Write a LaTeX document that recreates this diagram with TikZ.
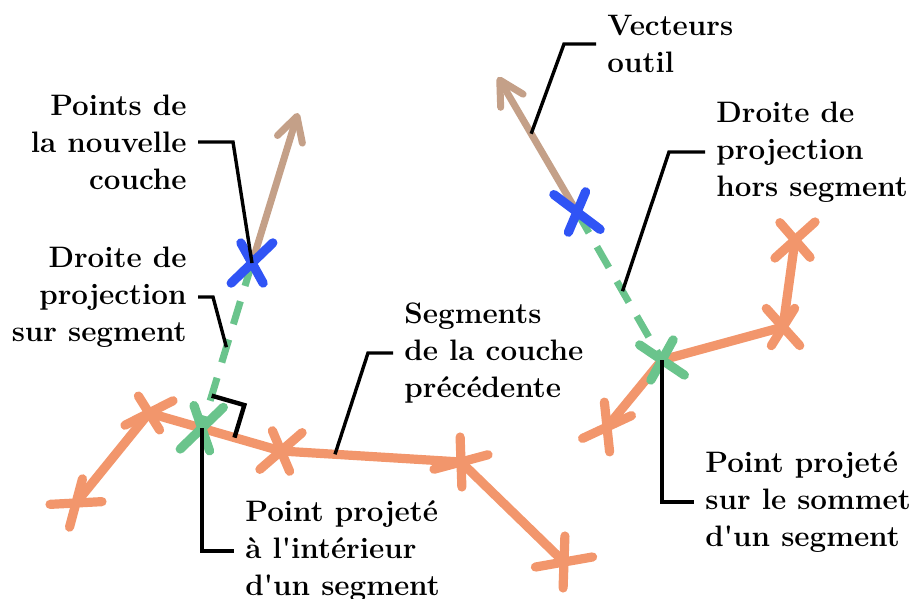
\documentclass[tikz,border=0pt]{standalone}
\usepackage{fontspec}
\usetikzlibrary{arrows.meta,calc}
\definecolor{segorange}{RGB}{242,150,108}
\definecolor{projgreen}{RGB}{106,196,140}
\definecolor{newblue}{RGB}{48,84,245}
\definecolor{toolbrown}{RGB}{196,160,136}
\tikzset{
  every picture/.append style={line cap=round,line join=round},
  seg line/.style={segorange,line width=4.6pt},
  cross stroke/.style={line width=4.6pt},
  proj dashed/.style={projgreen,line width=3.5pt,line cap=butt,dash pattern=on 12pt off 8pt},
  tool arrow/.style={toolbrown,line width=3.5pt,-{Straight Barb[length=12pt,width=13pt,round]}},
  leader/.style={black,line width=1.7pt,line cap=butt,line join=miter},
  right mark/.style={black,line width=2.2pt,line cap=butt,line join=miter},
  lbl/.style={font=\fontsize{14.8}{18.5}\selectfont\bfseries,inner xsep=5.5pt,inner ysep=0pt}
}
\begin{document}
\begin{tikzpicture}[x=0.5pt,y=-0.5pt]
  \useasboundingbox (0,0) rectangle (911,599);
  % couche precedente, gauche
  \coordinate (p1) at (76,503);
  \coordinate (p2) at (149,413);
  \coordinate (p3) at (281,451);
  \coordinate (p4) at (461,462);
  \coordinate (p5) at (564,562);
  \coordinate (g1) at ($(p2)!0.4!(p3)$);
  \coordinate (b1) at (252,263);
  \coordinate (t1) at (298,113);
  % couche precedente, droite
  \coordinate (q1) at (607,427);
  \coordinate (g2) at (662,360);
  \coordinate (q2) at (783,327);
  \coordinate (q3) at (795,240);
  \coordinate (b2) at (577,212);
  \coordinate (t2) at (498,77);
  % points d'accroche
  \coordinate (d1) at ($(b1)!0.51!(g1)$);
  \coordinate (d2) at ($(b2)!0.535!(g2)$);
  \coordinate (s1) at ($(p3)!0.3!(p4)$);
  \coordinate (v1) at ($(b2)!0.58!(t2)$);

  \draw[seg line] (p1) -- (p2) -- (g1) -- (p3) -- (p4) -- (p5);
  \draw[seg line] (q1) -- (g2) -- (q2) -- (q3);
  \draw[proj dashed] (b1) -- (g1);
  \draw[proj dashed] (b2) -- (g2);
  \draw[tool arrow] (b1) -- (t1);
  \draw[tool arrow] (b2) -- (t2);

  % angle droit
  \coordinate (m1) at ($(g1)!17pt!(b1)$);
  \coordinate (m3) at ($(g1)!17pt!(p3)$);
  \coordinate (mc) at ($(m1)+(m3)-(g1)$);
  \draw[right mark] (m1) -- (mc) -- (m3);

  \foreach \pt/\col/\a/\ra/\b/\rb in {
    p1/segorange/-3/26/105/25, p2/segorange/58/20/-27/27,
    p3/segorange/67/22/-41/28, p4/segorange/88/25/-15/28,
    p5/segorange/92/26/-10/29, q1/segorange/-25/27/84/25,
    q2/segorange/48/25/122/22, q3/segorange/49/23/138/27,
    g1/projgreen/-44/30/71/24, g2/projgreen/34/27/119/23,
    b1/newblue/-44/29/61/23, b2/newblue/37/29/113/22} {
    \draw[cross stroke,\col] ($(\pt)+(\a:\ra)$) -- ($(\pt)+(\a+180:\ra)$);
    \draw[cross stroke,\col] ($(\pt)+(\b:\rb)$) -- ($(\pt)+(\b+180:\rb)$);
  }

  % etiquettes
  \node[lbl,anchor=east,align=right] (lblNew) at (198,142) {Points de\\la nouvelle\\couche};
  \node[lbl,anchor=east,align=right] (lblOn) at (198,297) {Droite de\\projection\\sur segment};
  \node[lbl,anchor=west,align=left] (lblSeg) at (393,353) {Segments\\de la couche\\précédente};
  \node[lbl,anchor=west,align=left] (lblIn) at (234,551) {Point projeté\\à l\textquotesingle intérieur\\d\textquotesingle un segment};
  \node[lbl,anchor=west,align=left] (lblTool) at (596,44) {Vecteurs\\outil};
  \node[lbl,anchor=west,align=left] (lblOff) at (705,152) {Droite de\\projection\\hors segment};
  \node[lbl,anchor=west,align=left] (lblTop) at (694,502) {Point projeté\\sur le sommet\\d\textquotesingle un segment};

  \draw[leader] (lblNew.east) -- ++(35,0) -- (b1);
  \draw[leader] (lblOn.east) -- ++(15,0) -- (d1);
  \draw[leader] (lblSeg.west) -- ++(-25,0) -- (s1);
  \draw[leader] (g1) |- (lblIn.west);
  \draw[leader] (lblTool.west) -- ++(-32,0) -- (v1);
  \draw[leader] (lblOff.west) -- ++(-36,0) -- (d2);
  \draw[leader] (g2) |- (lblTop.west);
\end{tikzpicture}
\end{document}
